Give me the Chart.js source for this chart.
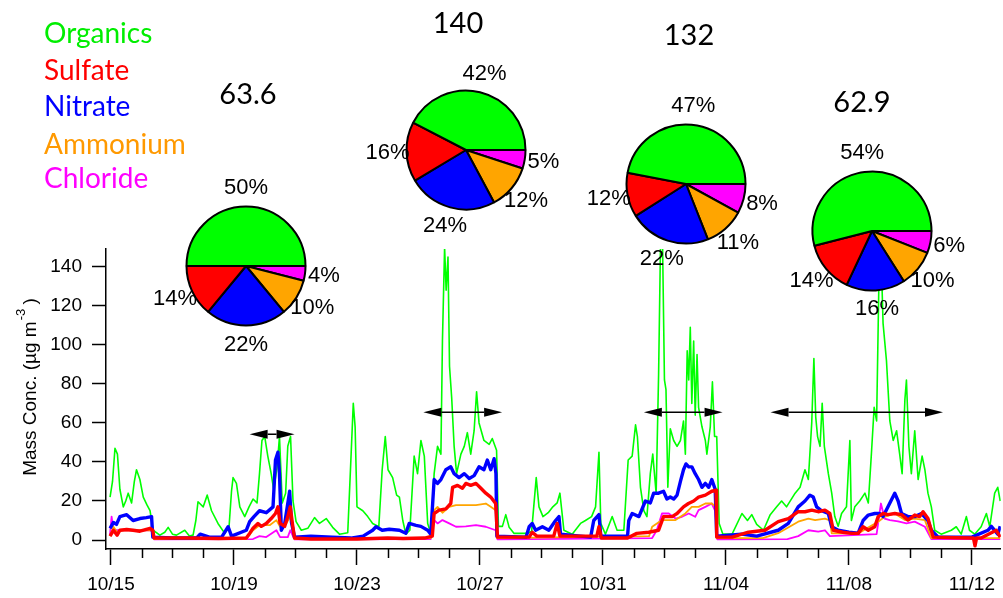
<!DOCTYPE html>
<html lang="en">
<head>
<meta charset="UTF-8">
<title>PM1 species mass concentration</title>
<script src="https://cdn.jsdelivr.net/npm/chart.js"></script>
<style>
body { margin: 0; background: #fff; width: 1003px; height: 598px; overflow: hidden; position: relative; }
#main { position: absolute; left: 0; top: 0; }
.pie { position: absolute; }
.txt { position: absolute; font-family: Lato, "Open Sans", sans-serif; line-height: 1; white-space: nowrap; }
.legend { font-size: 28px; left: 44px; }
.total { font-size: 29px; color: #000; width: 120px; text-align: center; }
</style>
</head>
<body>
<canvas id="main" width="1003" height="598"></canvas>
<canvas class="pie" id="pie0" width="240" height="240"></canvas>
<canvas class="pie" id="pie1" width="240" height="240"></canvas>
<canvas class="pie" id="pie2" width="240" height="240"></canvas>
<canvas class="pie" id="pie3" width="240" height="240"></canvas>

<script>
// species + colours
const speciesNames = ['Organics', 'Sulfate', 'Nitrate', 'Ammonium', 'Chloride'];
const seriesColors = ['#00ff00', '#ff0000', '#0000ff', '#ffa500', '#ff00ff'];
const legendColors = ['#00ee00', '#ff0000', '#0000ff', '#ff9900', '#ff00ff'];

// x axis: days since 10/15
const tickDays = [0, 4, 8, 12, 16, 20, 24, 28];
const tickLabels = ['10/15', '10/19', '10/23', '10/27', '10/31', '11/04', '11/08', '11/12'];
const yTicks = [0, 20, 40, 60, 80, 100, 120, 140];

// Organics
const orgDays = [-0.03, 0.05, 0.13, 0.21, 0.29, 0.40, 0.48, 0.56, 0.67, 0.76, 0.83, 0.94, 1.05, 1.17, 1.27, 1.37, 1.59, 1.75, 1.86, 2.0,
  2.13, 2.40, 2.55, 2.67, 2.76, 2.83, 3.0, 3.13, 3.27, 3.48, 3.70, 3.84, 3.92, 3.97, 4.08, 4.19, 4.35, 4.49, 4.62, 4.75,
  4.83, 4.91, 5.0, 5.10, 5.21, 5.29, 5.40, 5.48, 5.57, 5.68, 5.75, 5.84, 5.92, 6.02, 6.19, 6.40, 6.62, 6.78, 7.0, 7.21,
  7.43, 7.70, 7.81, 7.88, 7.94, 8.0, 8.19, 8.35, 8.51, 8.71, 8.82, 8.92, 9.01, 9.16, 9.29, 9.38, 9.49, 9.59, 9.72, 9.86,
  9.97, 10.08, 10.19, 10.30, 10.40, 10.51, 10.62, 10.73, 10.78, 10.85, 10.90, 10.96, 11.01, 11.08, 11.16, 11.24, 11.38, 11.49, 11.59, 11.70,
  11.81, 11.89, 11.97, 12.13, 12.30, 12.40, 12.54, 12.60, 12.73, 12.84, 12.95, 13.11, 13.49, 13.68, 13.83, 13.92, 14.05, 14.22, 14.37, 14.51,
  14.60, 14.73, 15.0, 15.27, 15.43, 15.63, 15.76, 15.87, 15.93, 16.08, 16.30, 16.46, 16.68, 16.82, 16.95, 17.06, 17.12, 17.22, 17.33, 17.43,
  17.54, 17.62, 17.73, 17.81, 17.87, 17.94, 18.0, 18.05, 18.11, 18.19, 18.30, 18.41, 18.52, 18.62, 18.68, 18.74, 18.79, 18.84, 18.89, 18.95,
  19.0, 19.06, 19.11, 19.22, 19.33, 19.38, 19.49, 19.56, 19.63, 19.70, 19.78, 19.9, 20.2, 20.52, 20.7, 20.84, 21.0, 21.22, 21.44, 21.65,
  21.81, 21.97, 22.25, 22.41, 22.57, 22.68, 22.79, 22.86, 22.92, 22.98, 23.06, 23.13, 23.2, 23.33, 23.44, 23.54, 23.65, 23.76, 23.92, 24.03,
  24.08, 24.19, 24.35, 24.52, 24.63, 24.73, 24.82, 24.9, 24.97, 25.04, 25.11, 25.22, 25.33, 25.44, 25.55, 25.65, 25.73, 25.82, 25.87, 25.95,
  26.03, 26.14, 26.25, 26.38, 26.47, 26.57, 26.68, 26.79, 27.0, 27.33, 27.49, 27.65, 27.82, 27.92, 28.09, 28.30, 28.47, 28.58, 28.74, 28.84, 28.92];
const orgConc = [22, 30, 47, 44, 26, 17, 20, 24, 19, 30, 36, 31, 22, 18, 15, 5, 2.5, 4, 6.5, 3,
  2.5, 5, 2, 2.5, 10, 19.6, 17, 23, 15, 8.5, 3.4, 6.8, 25, 32, 29, 17, 12, 17, 21, 19,
  34, 51, 53, 43, 34, 26, 37, 53, 19, 24, 48, 53, 20, 9.4, 5, 6, 11.5, 8.5, 11, 6.5,
  3, 3.7, 44, 70, 58, 17, 15, 12, 8.5, 6.8, 36, 53, 36, 32, 23, 22, 10, 3, 5, 43,
  34, 51, 43, 8.5, 3.4, 34, 48, 44, 102, 150, 128, 145, 89, 73, 48, 34, 44, 48, 55, 44,
  56, 76, 60, 51, 49, 52, 46, 7, 7, 13, 6.5, 3.4, 3.4, 4.3, 32, 17, 12, 14, 17, 19,
  24, 5, 3, 8.5, 10, 12, 17, 45, 8.5, 3, 12, 5, 5, 41, 43, 59, 53, 27, 15, 12,
  34, 44, 24, 85, 150, 150, 82, 77, 27, 57, 51, 48, 51, 61, 44, 97, 82, 109, 70, 102,
  64, 95, 68, 58, 51, 44, 58, 81, 53, 53, 8.5, 3, 3, 13.6, 10, 13, 8, 5, 13, 17,
  20, 17, 24, 27, 36, 31, 60, 93, 63, 53, 48, 70, 48, 34, 24, 12, 7, 13.6, 17, 51,
  10, 17, 20, 24, 19, 44, 68, 61, 128, 150, 111, 92, 61, 51, 56, 44, 34, 72, 82, 48,
  34, 56, 31, 43, 36, 24, 17, 5, 3, 5, 6.8, 3, 12, 5, 3, 6.8, 13.6, 6.8, 24, 27, 20];

// Sulfate
const so4Days = [-0.03, 0.08, 0.2, 0.29, 0.51, 0.72, 0.94, 1.27, 1.36, 1.4, 2.5, 3.5, 4.4, 4.51, 4.62, 4.78, 4.89, 5.05, 5.21, 5.35,
  5.43, 5.5, 5.65, 5.75, 5.83, 5.9, 5.97, 6.5, 8.0, 9.0, 9.5, 10.2, 10.45, 10.51, 10.67, 10.89, 11.05, 11.11, 11.27, 11.43,
  11.54, 11.70, 11.87, 12.03, 12.19, 12.35, 12.51, 12.57, 13.6, 13.7, 13.85, 14.4, 14.51, 14.6, 15.8, 15.87, 15.95, 16.8, 17.1, 17.49,
  17.81, 17.97, 18.25, 18.41, 18.62, 18.78, 18.95, 19.11, 19.33, 19.54, 19.68, 19.7, 20.2, 20.73, 21.27, 21.7, 22.03, 22.35, 22.57, 22.79,
  23.0, 23.22, 23.38, 23.49, 23.8, 24.08, 24.3, 24.46, 24.63, 24.84, 24.95, 25.11, 25.27, 25.49, 25.71, 25.92, 26.14, 26.3, 26.41, 26.57,
  26.74, 27.5, 28.05, 28.1, 28.15, 28.3, 28.79, 28.92];
const so4Conc = [2, 5, 2.5, 5, 5.4, 5, 4.5, 6, 5, 1, 1, 0.8, 1, 3.4, 6, 8.5, 7, 8.5, 11, 13.6,
  17, 8.5, 7, 12, 17, 8.5, 1, 0.5, 0.5, 1, 0.8, 1, 2, 13.6, 15.3, 16, 18.7, 27, 28, 26.5,
  29, 28, 29, 26.5, 24, 22, 18.7, 1.5, 1.5, 4, 2, 2, 8.5, 2, 2, 6.8, 1, 1, 3.4, 4,
  5, 12, 12, 13.6, 17, 18.7, 20, 22, 23, 25, 25.5, 1.5, 1.5, 4, 5, 9.4, 11, 14.5, 14.5, 15.3,
  14.5, 15.3, 13.6, 5, 4, 3.4, 3.4, 6.8, 5, 6.8, 12, 13.6, 13, 13.6, 13, 10.2, 12.8, 12, 14.5, 11,
  1.5, 1.2, 1, -3, 1, 1, 5, 1.5];

// Nitrate
const no3Days = [-0.03, 0.08, 0.18, 0.29, 0.51, 0.72, 0.94, 1.15, 1.32, 1.36, 2.0, 2.78, 2.9, 3.2, 3.6, 3.81, 3.92, 4.4, 4.51, 4.65,
  4.83, 5.05, 5.27, 5.35, 5.43, 5.48, 5.54, 5.65, 5.81, 5.87, 5.97, 6.5, 7.2, 7.8, 8.2, 8.51, 8.62, 8.82, 9.05, 9.38,
  9.59, 9.7, 9.92, 10.08, 10.3, 10.4, 10.51, 10.62, 10.73, 10.89, 11.05, 11.16, 11.32, 11.49, 11.65, 11.81, 11.97, 12.13, 12.24, 12.35,
  12.46, 12.52, 12.55, 13.5, 13.6, 13.7, 13.81, 14.03, 14.24, 14.46, 14.57, 14.62, 15.6, 15.7, 15.87, 15.93, 16.8, 16.84, 16.95, 17.17,
  17.38, 17.54, 17.65, 17.81, 17.97, 18.08, 18.19, 18.3, 18.41, 18.52, 18.62, 18.7, 18.79, 18.89, 19.0, 19.11, 19.22, 19.33, 19.44, 19.54,
  19.65, 19.7, 20.5, 21.0, 21.7, 22.03, 22.35, 22.57, 22.73, 22.84, 22.95, 23.11, 23.33, 23.44, 23.65, 24.0, 24.3, 24.46, 24.63, 24.84,
  25.0, 25.11, 25.27, 25.49, 25.6, 25.71, 25.92, 26.14, 26.36, 26.57, 26.68, 26.9, 27.5, 28.0, 28.52, 28.63, 28.84, 28.92];
const no3Conc = [6, 9, 8, 12, 13, 10, 11, 11.5, 12, 1.5, 1, 1, 3, 1.5, 1.5, 6.8, 2, 5, 9.4, 12,
  15, 14, 17, 41, 45, 34, 5, 8.5, 25, 9, 1.5, 2, 1.5, 1, 2, 5, 6.8, 5, 5.5, 5,
  3.5, 8.5, 7.5, 7, 5, 3, 31, 29, 31, 36, 37.5, 34, 32, 34, 31.5, 33, 37.5, 36, 41, 36,
  41.7, 34, 2, 1.5, 6.8, 8.5, 5, 6.8, 5, 10, 12, 3, 1.5, 10, 13, 2, 2, 10, 13.6, 12,
  20, 19, 24, 24, 25, 21, 22, 21, 23, 30, 36, 39, 37.5, 37.5, 34, 31, 27, 29, 27, 31,
  26, 2, 3, 2, 5, 8.5, 17, 20, 23, 22, 17, 15, 13.6, 6.8, 5, 4, 3.5, 10, 12.8, 13.6,
  13.6, 12, 17, 24, 20, 13.6, 12, 12, 13.6, 10, 5, 1.5, 1.5, 1.5, 5, 7, 3, 7];

// Ammonium
const nh4Days = [-0.03, 0.08, 0.2, 0.4, 0.8, 1.27, 1.36, 1.4, 4.4, 4.62, 4.83, 5.16, 5.38, 5.5, 5.7, 5.83, 5.97, 10.4, 10.51, 10.62,
  10.78, 11.0, 11.22, 11.54, 11.87, 12.19, 12.35, 12.51, 12.57, 17.5, 17.6, 17.92, 18.36, 18.68, 18.89, 19.11, 19.33, 19.54, 19.68, 19.7,
  21.2, 21.7, 22.35, 22.68, 22.9, 23.22, 23.38, 23.44, 24.3, 24.95, 25.16, 25.49, 25.82, 26.14, 26.47, 26.68, 28.92];
const nh4Conc = [2, 6.8, 4, 5, 5, 5, 4.5, 0.5, 0.5, 5, 7.6, 7.6, 10.2, 6.8, 8.5, 12, 0.5, 1, 15.3, 17,
  14, 17, 17.9, 17.9, 17.9, 18.7, 17, 15.3, 1, 2, 6.8, 10.2, 10.2, 13.6, 17, 17, 18.7, 18.7, 17, 1,
  1, 3.5, 9.4, 11, 10.2, 11, 10, 3.4, 3.4, 9.4, 11.9, 13.6, 10.2, 11, 10.2, 1, 1];

// Chloride
const chlDays = [-0.03, 0.02, 0.08, 0.3, 0.8, 1.27, 1.36, 1.4, 4.62, 4.83, 5.05, 5.38, 5.5, 5.75, 5.83, 5.97, 10.4, 10.51, 10.62, 10.78,
  11.0, 11.22, 11.54, 11.87, 12.19, 12.51, 12.57, 17.6, 17.75, 17.92, 18.14, 18.36, 18.57, 18.79, 19.0, 19.11, 19.33, 19.54, 19.65, 19.72,
  22.0, 22.35, 22.68, 23.0, 23.22, 23.38, 24.9, 25.04, 25.16, 25.33, 25.6, 25.87, 26.14, 26.47, 26.68, 28.92];
const chlConc = [3, 12, 5, 5, 5, 5, 4, 0.3, 0.5, 2, 1.5, 5, 1.5, 1.5, 5, 0.3, 0.5, 10.2, 8.5, 10.2,
  8.5, 6.8, 7, 7.6, 6.8, 5, 0.3, 1, 5, 13.6, 13.6, 11, 11.9, 13.6, 11.9, 15.3, 17, 18.7, 15, 0.3,
  0.5, 2, 5, 4.3, 5, 2, 3, 18.7, 11, 10.2, 9.5, 8.5, 9.4, 6.8, 0.5, 0.5];

// double arrows marking the four pie periods (days, µg m-3)
const arrowFrom = [4.51, 10.16, 17.33, 21.45];
const arrowTo = [5.97, 12.72, 19.89, 27.06];
const arrowLevel = [54.2, 65.4, 65.4, 65.4];

// pie charts: totals and percentages (Organics, Sulfate, Nitrate, Ammonium, Chloride)
const pieTotals = ['63.6', '140', '132', '62.9'];
const piePct = [
  [50, 14, 22, 10, 4],
  [42, 16, 24, 12, 5],
  [47, 12, 22, 11, 8],
  [54, 14, 16, 10, 6]
];

// layout (pixels)
const pieCenters = [[245.5, 265.5], [466, 150], [686, 184], [871.5, 231]];
const totalPos = [[248, 78], [458, 7], [689, 19], [862, 86]];
const legendTops = [18, 55, 91, 129, 163];

const tickFont = { family: '"Liberation Sans", Arial, sans-serif', size: 19 };
const axisFont = '"Liberation Sans", Arial, sans-serif';

// legend + totals as html text
speciesNames.forEach((name, i) => {
  const d = document.createElement('div');
  d.className = 'txt legend';
  d.style.top = legendTops[i] + 'px';
  d.style.color = legendColors[i];
  d.textContent = name;
  document.body.appendChild(d);
});
pieTotals.forEach((t, i) => {
  const d = document.createElement('div');
  d.className = 'txt total';
  d.style.left = (totalPos[i][0] - 60) + 'px';
  d.style.top = totalPos[i][1] + 'px';
  d.textContent = t;
  document.body.appendChild(d);
});

const extrasPlugin = {
  id: 'extras',
  afterDraw(chart) {
    const ctx = chart.ctx;
    const xs = chart.scales.x, ys = chart.scales.y;
    const bottom = chart.chartArea.bottom;
    ctx.save();
    // minor day ticks
    ctx.strokeStyle = '#000';
    ctx.lineWidth = 1.5;
    for (let d = 1; d <= 28; d++) {
      if (d % 4 === 0) continue;
      const px = Math.round(xs.getPixelForValue(d)) + 0.5;
      ctx.beginPath();
      ctx.moveTo(px, bottom);
      ctx.lineTo(px, bottom + 9);
      ctx.stroke();
    }
    // arrows
    ctx.fillStyle = '#000';
    ctx.lineWidth = 1.5;
    arrowFrom.forEach((a, i) => {
      const x1 = xs.getPixelForValue(a), x2 = xs.getPixelForValue(arrowTo[i]);
      const y = ys.getPixelForValue(arrowLevel[i]);
      const L = 18, H = 4.5;
      ctx.beginPath();
      ctx.moveTo(x1 + L, y);
      ctx.lineTo(x2 - L, y);
      ctx.stroke();
      ctx.beginPath();
      ctx.moveTo(x1, y); ctx.lineTo(x1 + L, y - H); ctx.lineTo(x1 + L, y + H); ctx.closePath();
      ctx.fill();
      ctx.beginPath();
      ctx.moveTo(x2, y); ctx.lineTo(x2 - L, y - H); ctx.lineTo(x2 - L, y + H); ctx.closePath();
      ctx.fill();
    });
    // y axis title with superscript
    ctx.translate(31, 387);
    ctx.rotate(-Math.PI / 2);
    ctx.fillStyle = '#000';
    ctx.textBaseline = 'middle';
    ctx.textAlign = 'left';
    const main = 'Mass Conc. (\u00b5g m', sup = '-3', tail = ' )';
    ctx.font = '19px ' + axisFont;
    const w1 = ctx.measureText(main).width, w3 = ctx.measureText(tail).width;
    ctx.font = '13px ' + axisFont;
    const w2 = ctx.measureText(sup).width;
    const x0 = -(w1 + w2 + w3) / 2;
    ctx.font = '19px ' + axisFont;
    ctx.fillText(main, x0, 0);
    ctx.font = '13px ' + axisFont;
    ctx.fillText(sup, x0 + w1 + 1, -10);
    ctx.font = '19px ' + axisFont;
    ctx.fillText(tail, x0 + w1 + w2, 0);
    ctx.restore();
  }
};

const seriesDays = [orgDays, so4Days, no3Days, nh4Days, chlDays];
const seriesConc = [orgConc, so4Conc, no3Conc, nh4Conc, chlConc];
const lineWidths = [1.6, 3.4, 3.4, 1.8, 1.8];
const drawOrder = [4, 0, 1, 2, 3];

new Chart(document.getElementById('main'), {
  type: 'line',
  data: {
    datasets: speciesNames.map((name, i) => ({
      label: name,
      data: seriesDays[i].map((d, j) => ({ x: d, y: seriesConc[i][j] })),
      borderColor: seriesColors[i],
      borderWidth: lineWidths[i],
      pointRadius: 0,
      tension: 0,
      fill: false,
      order: drawOrder[i],
      borderJoinStyle: 'round'
    }))
  },
  options: {
    responsive: false,
    animation: false,
    events: [],
    layout: { padding: { top: 249, left: 0, right: 0, bottom: 0 } },
    plugins: { legend: { display: false }, tooltip: { enabled: false } },
    scales: {
      x: {
        type: 'linear',
        min: -0.162,
        max: 28.94,
        afterBuildTicks: s => { s.ticks = tickDays.map(v => ({ value: v })); },
        afterFit: s => { s.height = 49; },
        grid: { drawOnChartArea: false, tickLength: 16, tickWidth: 1.5, tickColor: '#000' },
        border: { color: '#000', width: 1.5 },
        ticks: {
          autoSkip: false, maxRotation: 0, padding: 8, color: '#000', font: tickFont,
          callback: v => tickLabels[tickDays.indexOf(v)]
        }
      },
      y: {
        min: -4.6,
        max: 149.1,
        afterBuildTicks: s => { s.ticks = yTicks.map(v => ({ value: v })); },
        afterFit: s => { s.width = 106; },
        grid: { drawOnChartArea: false, tickLength: 14, tickWidth: 1.5, tickColor: '#000' },
        border: { color: '#000', width: 1.5 },
        ticks: { padding: 10, color: '#000', font: tickFont }
      }
    }
  },
  plugins: [extrasPlugin]
});

// pies: drawn clockwise from 3 o'clock, so reverse the species order
const pctLabelPlugin = {
  id: 'pctLabels',
  afterDatasetsDraw(chart) {
    const ctx = chart.ctx;
    const meta = chart.getDatasetMeta(0);
    const vals = chart.data.datasets[0].data;
    ctx.save();
    ctx.font = '22px ' + axisFont;
    ctx.fillStyle = '#000';
    ctx.textAlign = 'center';
    ctx.textBaseline = 'middle';
    meta.data.forEach((arc, i) => {
      const p = arc.getProps(['x', 'y', 'startAngle', 'endAngle', 'outerRadius'], true);
      const mid = (p.startAngle + p.endAngle) / 2;
      const r = p.outerRadius + 19;
      ctx.fillText(vals[i] + '%', p.x + Math.cos(mid) * r, p.y + Math.sin(mid) * r);
    });
    ctx.restore();
  }
};

piePct.forEach((pct, k) => {
  const cv = document.getElementById('pie' + k);
  cv.style.left = (pieCenters[k][0] - 120) + 'px';
  cv.style.top = (pieCenters[k][1] - 120) + 'px';
  new Chart(cv, {
    type: 'pie',
    data: {
      labels: speciesNames.slice().reverse(),
      datasets: [{
        data: pct.slice().reverse(),
        backgroundColor: seriesColors.slice().reverse(),
        borderColor: '#000',
        borderWidth: 2
      }]
    },
    options: {
      responsive: false,
      animation: false,
      events: [],
      rotation: 90,
      radius: 59.5,
      layout: { padding: 0 },
      plugins: { legend: { display: false }, tooltip: { enabled: false } }
    },
    plugins: [pctLabelPlugin]
  });
});
</script>
</body>
</html>
